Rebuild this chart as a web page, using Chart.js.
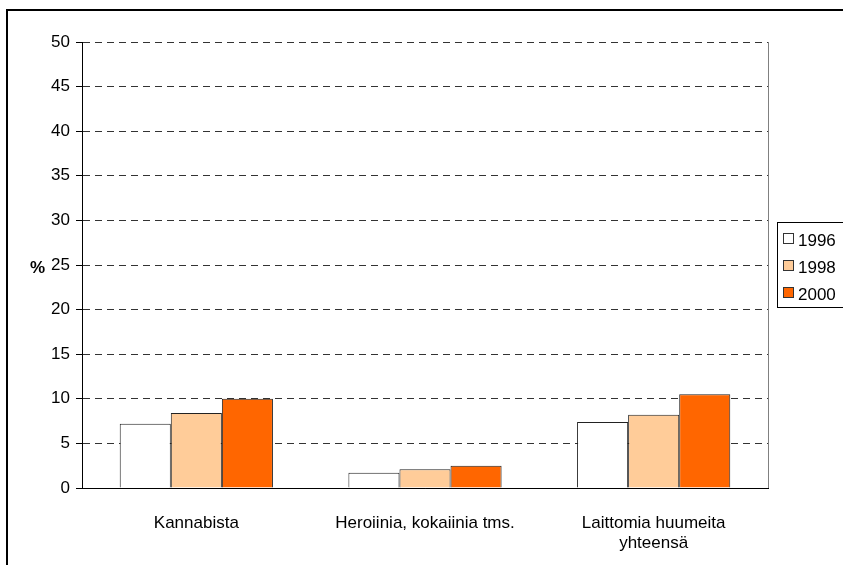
<!DOCTYPE html>
<html>
<head>
<meta charset="utf-8">
<script src="https://cdn.jsdelivr.net/npm/chart.js@4"></script>
<style>
  body { margin: 0; background: #fff; overflow: hidden; }
  .frame { position: absolute; left: 6px; top: 9px; width: 900px; height: 600px; border-left: 2px solid #000; border-top: 2px solid #000; }
  .wrap { position: absolute; left: 0; top: 0; width: 843px; height: 565px; }
</style>
</head>
<body>
<div class="frame"></div>
<div class="wrap"><canvas id="chart" width="843" height="565"></canvas></div>
<script>
var categories = ["Kannabista", "Heroiinia, kokaiinia tms.", ["Laittomia huumeita", "yhteensä"]];
var years = ["1996", "1998", "2000"];
var values1996 = [7.2, 1.7, 7.4];
var values1998 = [8.4, 2.1, 8.2];
var values2000 = [10.0, 2.5, 10.5];
var yTicks = [0, 5, 10, 15, 20, 25, 30, 35, 40, 45, 50];
var colors = ["#ffffff", "#ffcc99", "#ff6600"];

Chart.defaults.font.family = "'Liberation Sans', Arial, sans-serif";
Chart.defaults.font.size = 17;
Chart.defaults.color = "#000";

// right edge, legend box, y title
var extras = {
  id: "extras",
  afterDraw: function (chart) {
    var c = chart.ctx, a = chart.chartArea;
    c.save();
    c.strokeStyle = "#808080";
    c.lineWidth = 1;
    c.beginPath();
    c.moveTo(Math.round(a.right) + 0.5, a.top);
    c.lineTo(Math.round(a.right) + 0.5, a.bottom);
    c.stroke();
    // legend
    c.strokeStyle = "#000";
    c.strokeRect(777.5, 222.5, 70, 85);
    c.font = "17px 'Liberation Sans', Arial, sans-serif";
    c.textBaseline = "middle";
    chart.data.datasets.forEach(function (ds, i) {
      var y = 239 + i * 27;
      c.fillStyle = ds.backgroundColor;
      c.fillRect(783.5, y - 5.5, 10, 10);
      c.strokeStyle = "#333";
      c.strokeRect(783.5, y - 5.5, 10, 10);
      c.fillStyle = "#000";
      c.fillText(ds.label, 798, y + 2);
    });
    c.font = "bold 17px 'Liberation Sans', Arial, sans-serif";
    c.fillText("%", 30, 268);
    c.restore();
  }
};

new Chart(document.getElementById("chart"), {
  type: "bar",
  data: {
    labels: categories,
    datasets: [
      { label: years[0], data: values1996, backgroundColor: colors[0] },
      { label: years[1], data: values1998, backgroundColor: colors[1] },
      { label: years[2], data: values2000, backgroundColor: colors[2] }
    ]
  },
  options: {
    responsive: false,
    animation: false,
    devicePixelRatio: 1,
    layout: { padding: { left: 0, right: 75, top: 42, bottom: 0 } },
    datasets: {
      bar: { borderColor: "#222", borderWidth: 1, barPercentage: 1, categoryPercentage: 0.67 }
    },
    plugins: { legend: { display: false }, tooltip: { enabled: false } },
    scales: {
      x: {
        grid: { display: false },
        border: { color: "#000", width: 1 },
        ticks: { padding: 17, maxRotation: 0, font: { size: 17 } },
        afterFit: function (s) { s.height = 77; }
      },
      y: {
        min: 0,
        max: 50,
        afterBuildTicks: function (s) { s.ticks = yTicks.map(function (v) { return { value: v }; }); },
        grid: { color: "#333", tickBorderDash: [], tickColor: "#000", tickLength: 6 },
        border: { color: "#000", width: 1, dash: [7, 5] },
        ticks: { padding: 6 },
        afterFit: function (s) { s.width = 82; }
      }
    }
  },
  plugins: [extras]
});
</script>
</body>
</html>
